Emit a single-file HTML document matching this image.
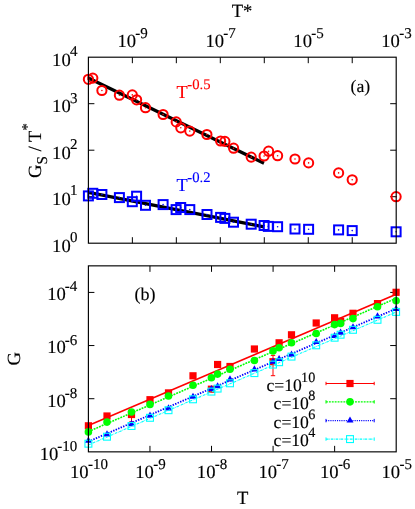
<!DOCTYPE html>
<html><head><meta charset="utf-8"><title>chart</title>
<style>html,body{margin:0;padding:0;background:#fff;}svg{display:block;will-change:transform;}text{font-family:"Liberation Serif",serif;text-rendering:geometricPrecision;stroke-width:0.15px;}</style>
</head><body>
<svg width="415" height="509" viewBox="0 0 415 509">
<rect x="0" y="0" width="415" height="509" fill="#ffffff"/>
<line x1="132.37" y1="57.20" x2="132.37" y2="63.20" stroke="#000" stroke-width="1" />
<line x1="132.37" y1="243.20" x2="132.37" y2="237.20" stroke="#000" stroke-width="1" />
<line x1="176.34" y1="57.20" x2="176.34" y2="63.20" stroke="#000" stroke-width="1" />
<line x1="176.34" y1="243.20" x2="176.34" y2="237.20" stroke="#000" stroke-width="1" />
<line x1="220.31" y1="57.20" x2="220.31" y2="63.20" stroke="#000" stroke-width="1" />
<line x1="220.31" y1="243.20" x2="220.31" y2="237.20" stroke="#000" stroke-width="1" />
<line x1="264.29" y1="57.20" x2="264.29" y2="63.20" stroke="#000" stroke-width="1" />
<line x1="264.29" y1="243.20" x2="264.29" y2="237.20" stroke="#000" stroke-width="1" />
<line x1="308.26" y1="57.20" x2="308.26" y2="63.20" stroke="#000" stroke-width="1" />
<line x1="308.26" y1="243.20" x2="308.26" y2="237.20" stroke="#000" stroke-width="1" />
<line x1="352.23" y1="57.20" x2="352.23" y2="63.20" stroke="#000" stroke-width="1" />
<line x1="352.23" y1="243.20" x2="352.23" y2="237.20" stroke="#000" stroke-width="1" />
<line x1="88.40" y1="103.70" x2="94.40" y2="103.70" stroke="#000" stroke-width="1" />
<line x1="396.20" y1="103.70" x2="390.20" y2="103.70" stroke="#000" stroke-width="1" />
<line x1="88.40" y1="150.20" x2="94.40" y2="150.20" stroke="#000" stroke-width="1" />
<line x1="396.20" y1="150.20" x2="390.20" y2="150.20" stroke="#000" stroke-width="1" />
<line x1="88.40" y1="196.70" x2="94.40" y2="196.70" stroke="#000" stroke-width="1" />
<line x1="396.20" y1="196.70" x2="390.20" y2="196.70" stroke="#000" stroke-width="1" />
<line x1="88.40" y1="78.00" x2="264.00" y2="163.20" stroke="#000" stroke-width="3.2" />
<line x1="88.40" y1="192.40" x2="264.00" y2="226.90" stroke="#000" stroke-width="3.2" />
<circle cx="88.4" cy="79.3" r="4.6" fill="none" stroke="#ff0000" stroke-width="2"/>
<circle cx="88.4" cy="79.3" r="0.8" fill="#ff0000"/>
<circle cx="92.8" cy="78.1" r="4.6" fill="none" stroke="#ff0000" stroke-width="2"/>
<circle cx="92.8" cy="78.1" r="0.8" fill="#ff0000"/>
<circle cx="101.9" cy="90.5" r="4.6" fill="none" stroke="#ff0000" stroke-width="2"/>
<circle cx="101.9" cy="90.5" r="0.8" fill="#ff0000"/>
<circle cx="119.4" cy="95.2" r="4.6" fill="none" stroke="#ff0000" stroke-width="2"/>
<circle cx="119.4" cy="95.2" r="0.8" fill="#ff0000"/>
<circle cx="132.3" cy="94.9" r="4.6" fill="none" stroke="#ff0000" stroke-width="2"/>
<circle cx="132.3" cy="94.9" r="0.8" fill="#ff0000"/>
<circle cx="136.6" cy="99.8" r="4.6" fill="none" stroke="#ff0000" stroke-width="2"/>
<circle cx="136.6" cy="99.8" r="0.8" fill="#ff0000"/>
<circle cx="145.5" cy="107.7" r="4.6" fill="none" stroke="#ff0000" stroke-width="2"/>
<circle cx="145.5" cy="107.7" r="0.8" fill="#ff0000"/>
<circle cx="163.1" cy="114.5" r="4.6" fill="none" stroke="#ff0000" stroke-width="2"/>
<circle cx="163.1" cy="114.5" r="0.8" fill="#ff0000"/>
<circle cx="176.2" cy="121.9" r="4.6" fill="none" stroke="#ff0000" stroke-width="2"/>
<circle cx="176.2" cy="121.9" r="0.8" fill="#ff0000"/>
<circle cx="180.8" cy="127.8" r="4.6" fill="none" stroke="#ff0000" stroke-width="2"/>
<circle cx="180.8" cy="127.8" r="0.8" fill="#ff0000"/>
<circle cx="189.8" cy="131.1" r="4.6" fill="none" stroke="#ff0000" stroke-width="2"/>
<circle cx="189.8" cy="131.1" r="0.8" fill="#ff0000"/>
<circle cx="206.9" cy="134.5" r="4.6" fill="none" stroke="#ff0000" stroke-width="2"/>
<circle cx="206.9" cy="134.5" r="0.8" fill="#ff0000"/>
<circle cx="220.6" cy="141.0" r="4.6" fill="none" stroke="#ff0000" stroke-width="2"/>
<circle cx="220.6" cy="141.0" r="0.8" fill="#ff0000"/>
<circle cx="224.9" cy="141.4" r="4.6" fill="none" stroke="#ff0000" stroke-width="2"/>
<circle cx="224.9" cy="141.4" r="0.8" fill="#ff0000"/>
<circle cx="233.6" cy="148.2" r="4.6" fill="none" stroke="#ff0000" stroke-width="2"/>
<circle cx="233.6" cy="148.2" r="0.8" fill="#ff0000"/>
<circle cx="251.2" cy="157.1" r="4.6" fill="none" stroke="#ff0000" stroke-width="2"/>
<circle cx="251.2" cy="157.1" r="0.8" fill="#ff0000"/>
<circle cx="264.1" cy="156.0" r="4.6" fill="none" stroke="#ff0000" stroke-width="2"/>
<circle cx="264.1" cy="156.0" r="0.8" fill="#ff0000"/>
<circle cx="268.6" cy="151.2" r="4.6" fill="none" stroke="#ff0000" stroke-width="2"/>
<circle cx="268.6" cy="151.2" r="0.8" fill="#ff0000"/>
<circle cx="277.6" cy="155.7" r="4.6" fill="none" stroke="#ff0000" stroke-width="2"/>
<circle cx="277.6" cy="155.7" r="0.8" fill="#ff0000"/>
<circle cx="295.0" cy="159.0" r="4.6" fill="none" stroke="#ff0000" stroke-width="2"/>
<circle cx="295.0" cy="159.0" r="0.8" fill="#ff0000"/>
<circle cx="308.6" cy="162.9" r="4.6" fill="none" stroke="#ff0000" stroke-width="2"/>
<circle cx="308.6" cy="162.9" r="0.8" fill="#ff0000"/>
<circle cx="338.6" cy="172.9" r="4.6" fill="none" stroke="#ff0000" stroke-width="2"/>
<circle cx="338.6" cy="172.9" r="0.8" fill="#ff0000"/>
<circle cx="352.2" cy="179.8" r="4.6" fill="none" stroke="#ff0000" stroke-width="2"/>
<circle cx="352.2" cy="179.8" r="0.8" fill="#ff0000"/>
<circle cx="396.1" cy="196.7" r="4.6" fill="none" stroke="#ff0000" stroke-width="2"/>
<circle cx="396.1" cy="196.7" r="0.8" fill="#ff0000"/>
<rect x="83.90" y="191.40" width="9" height="9" fill="none" stroke="#0000ff" stroke-width="2"/>
<circle cx="88.4" cy="195.9" r="0.8" fill="#0000ff"/>
<rect x="88.30" y="188.80" width="9" height="9" fill="none" stroke="#0000ff" stroke-width="2"/>
<circle cx="92.8" cy="193.3" r="0.8" fill="#0000ff"/>
<rect x="97.40" y="190.00" width="9" height="9" fill="none" stroke="#0000ff" stroke-width="2"/>
<circle cx="101.9" cy="194.5" r="0.8" fill="#0000ff"/>
<rect x="114.90" y="193.10" width="9" height="9" fill="none" stroke="#0000ff" stroke-width="2"/>
<circle cx="119.4" cy="197.6" r="0.8" fill="#0000ff"/>
<rect x="132.10" y="191.70" width="9" height="9" fill="none" stroke="#0000ff" stroke-width="2"/>
<circle cx="136.6" cy="196.20000000000002" r="0.8" fill="#0000ff"/>
<rect x="127.80" y="197.20" width="9" height="9" fill="none" stroke="#0000ff" stroke-width="2"/>
<circle cx="132.3" cy="201.70000000000002" r="0.8" fill="#0000ff"/>
<rect x="141.00" y="200.80" width="9" height="9" fill="none" stroke="#0000ff" stroke-width="2"/>
<circle cx="145.5" cy="205.3" r="0.8" fill="#0000ff"/>
<rect x="158.60" y="200.10" width="9" height="9" fill="none" stroke="#0000ff" stroke-width="2"/>
<circle cx="163.1" cy="204.6" r="0.8" fill="#0000ff"/>
<rect x="171.60" y="205.10" width="9" height="9" fill="none" stroke="#0000ff" stroke-width="2"/>
<circle cx="176.1" cy="209.6" r="0.8" fill="#0000ff"/>
<rect x="176.20" y="203.00" width="9" height="9" fill="none" stroke="#0000ff" stroke-width="2"/>
<circle cx="180.7" cy="207.5" r="0.8" fill="#0000ff"/>
<rect x="185.30" y="205.10" width="9" height="9" fill="none" stroke="#0000ff" stroke-width="2"/>
<circle cx="189.8" cy="209.6" r="0.8" fill="#0000ff"/>
<rect x="202.50" y="210.00" width="9" height="9" fill="none" stroke="#0000ff" stroke-width="2"/>
<circle cx="207.0" cy="214.5" r="0.8" fill="#0000ff"/>
<rect x="216.10" y="212.90" width="9" height="9" fill="none" stroke="#0000ff" stroke-width="2"/>
<circle cx="220.6" cy="217.4" r="0.8" fill="#0000ff"/>
<rect x="220.40" y="213.90" width="9" height="9" fill="none" stroke="#0000ff" stroke-width="2"/>
<circle cx="224.9" cy="218.4" r="0.8" fill="#0000ff"/>
<rect x="229.00" y="217.70" width="9" height="9" fill="none" stroke="#0000ff" stroke-width="2"/>
<circle cx="233.5" cy="222.20000000000002" r="0.8" fill="#0000ff"/>
<rect x="246.70" y="219.70" width="9" height="9" fill="none" stroke="#0000ff" stroke-width="2"/>
<circle cx="251.2" cy="224.20000000000002" r="0.8" fill="#0000ff"/>
<rect x="259.60" y="221.00" width="9" height="9" fill="none" stroke="#0000ff" stroke-width="2"/>
<circle cx="264.1" cy="225.5" r="0.8" fill="#0000ff"/>
<rect x="263.80" y="221.90" width="9" height="9" fill="none" stroke="#0000ff" stroke-width="2"/>
<circle cx="268.3" cy="226.4" r="0.8" fill="#0000ff"/>
<rect x="273.10" y="222.20" width="9" height="9" fill="none" stroke="#0000ff" stroke-width="2"/>
<circle cx="277.6" cy="226.70000000000002" r="0.8" fill="#0000ff"/>
<rect x="290.50" y="224.50" width="9" height="9" fill="none" stroke="#0000ff" stroke-width="2"/>
<circle cx="295.0" cy="229.0" r="0.8" fill="#0000ff"/>
<rect x="304.10" y="224.80" width="9" height="9" fill="none" stroke="#0000ff" stroke-width="2"/>
<circle cx="308.6" cy="229.3" r="0.8" fill="#0000ff"/>
<rect x="334.10" y="225.40" width="9" height="9" fill="none" stroke="#0000ff" stroke-width="2"/>
<circle cx="338.6" cy="229.9" r="0.8" fill="#0000ff"/>
<rect x="347.70" y="226.10" width="9" height="9" fill="none" stroke="#0000ff" stroke-width="2"/>
<circle cx="352.2" cy="230.6" r="0.8" fill="#0000ff"/>
<rect x="391.60" y="227.30" width="9" height="9" fill="none" stroke="#0000ff" stroke-width="2"/>
<circle cx="396.1" cy="231.8" r="0.8" fill="#0000ff"/>
<rect x="88.4" y="57.2" width="307.80" height="186.00" fill="none" stroke="#000" stroke-width="1.15"/>
<text x="77.50" y="66.10" font-size="18.6" text-anchor="end" fill="#000" stroke="#000">10<tspan font-size="15.0" dx="-0.7" dy="-9.8">4</tspan></text>
<text x="77.50" y="112.45" font-size="18.6" text-anchor="end" fill="#000" stroke="#000">10<tspan font-size="15.0" dx="-0.7" dy="-9.8">3</tspan></text>
<text x="77.50" y="158.80" font-size="18.6" text-anchor="end" fill="#000" stroke="#000">10<tspan font-size="15.0" dx="-0.7" dy="-9.8">2</tspan></text>
<text x="77.50" y="205.15" font-size="18.6" text-anchor="end" fill="#000" stroke="#000">10<tspan font-size="15.0" dx="-0.7" dy="-9.8">1</tspan></text>
<text x="77.50" y="251.50" font-size="18.6" text-anchor="end" fill="#000" stroke="#000">10<tspan font-size="15.0" dx="-0.7" dy="-9.8">0</tspan></text>
<text x="117.47" y="47.00" font-size="18.6" text-anchor="start" fill="#000" stroke="#000">10<tspan font-size="15.0" dx="-0.7" dy="-9.2">-9</tspan></text>
<text x="205.41" y="47.00" font-size="18.6" text-anchor="start" fill="#000" stroke="#000">10<tspan font-size="15.0" dx="-0.7" dy="-9.2">-7</tspan></text>
<text x="293.36" y="47.00" font-size="18.6" text-anchor="start" fill="#000" stroke="#000">10<tspan font-size="15.0" dx="-0.7" dy="-9.2">-5</tspan></text>
<text x="381.30" y="47.00" font-size="18.6" text-anchor="start" fill="#000" stroke="#000">10<tspan font-size="15.0" dx="-0.7" dy="-9.2">-3</tspan></text>
<text x="231.70" y="17.30" font-size="18.6" text-anchor="start" fill="#000" stroke="#000">T*</text>
<text x="350.60" y="91.70" font-size="17.7" text-anchor="start" fill="#000" stroke="#000">(a)</text>
<text x="176.50" y="97.60" font-size="18.3" text-anchor="start" fill="#ff0000" stroke="#ff0000">T<tspan font-size="14.7" dx="-0.3" dy="-8.5">-0.5</tspan></text>
<text x="176.50" y="190.50" font-size="18.3" text-anchor="start" fill="#0000ff" stroke="#0000ff">T<tspan font-size="14.7" dx="-0.3" dy="-8.5">-0.2</tspan></text>
<text transform="translate(41.3,178.0) rotate(-90)" font-size="18.6" fill="#000" stroke="#000">G<tspan font-size="15.0" dy="5.4">S</tspan><tspan dy="-5.4"> / T</tspan><tspan font-size="15.0" dy="-9">*</tspan></text>
<line x1="149.96" y1="265.85" x2="149.96" y2="271.85" stroke="#000" stroke-width="1" />
<line x1="149.96" y1="451.85" x2="149.96" y2="445.85" stroke="#000" stroke-width="1" />
<line x1="211.52" y1="265.85" x2="211.52" y2="271.85" stroke="#000" stroke-width="1" />
<line x1="211.52" y1="451.85" x2="211.52" y2="445.85" stroke="#000" stroke-width="1" />
<line x1="273.08" y1="265.85" x2="273.08" y2="271.85" stroke="#000" stroke-width="1" />
<line x1="273.08" y1="451.85" x2="273.08" y2="445.85" stroke="#000" stroke-width="1" />
<line x1="334.64" y1="265.85" x2="334.64" y2="271.85" stroke="#000" stroke-width="1" />
<line x1="334.64" y1="451.85" x2="334.64" y2="445.85" stroke="#000" stroke-width="1" />
<line x1="88.40" y1="292.42" x2="94.40" y2="292.42" stroke="#000" stroke-width="1" />
<line x1="396.20" y1="292.42" x2="390.20" y2="292.42" stroke="#000" stroke-width="1" />
<line x1="88.40" y1="345.56" x2="94.40" y2="345.56" stroke="#000" stroke-width="1" />
<line x1="396.20" y1="345.56" x2="390.20" y2="345.56" stroke="#000" stroke-width="1" />
<line x1="88.40" y1="398.71" x2="94.40" y2="398.71" stroke="#000" stroke-width="1" />
<line x1="396.20" y1="398.71" x2="390.20" y2="398.71" stroke="#000" stroke-width="1" />
<line x1="273.00" y1="355.40" x2="273.00" y2="375.70" stroke="#ff0000" stroke-width="1" />
<line x1="270.80" y1="355.40" x2="275.20" y2="355.40" stroke="#ff0000" stroke-width="1" />
<line x1="270.80" y1="375.70" x2="275.20" y2="375.70" stroke="#ff0000" stroke-width="1" />
<line x1="131.50" y1="410.50" x2="131.50" y2="421.70" stroke="#ff0000" stroke-width="1" />
<line x1="129.30" y1="410.50" x2="133.70" y2="410.50" stroke="#ff0000" stroke-width="1" />
<line x1="129.30" y1="421.70" x2="133.70" y2="421.70" stroke="#ff0000" stroke-width="1" />
<rect x="84.80" y="422.20" width="7.2" height="7.2" fill="#ff0000"/>
<rect x="103.40" y="412.40" width="7.2" height="7.2" fill="#ff0000"/>
<rect x="127.90" y="410.90" width="7.2" height="7.2" fill="#ff0000"/>
<rect x="146.40" y="396.10" width="7.2" height="7.2" fill="#ff0000"/>
<rect x="164.90" y="389.30" width="7.2" height="7.2" fill="#ff0000"/>
<rect x="189.40" y="372.20" width="7.2" height="7.2" fill="#ff0000"/>
<rect x="207.80" y="385.60" width="7.2" height="7.2" fill="#ff0000"/>
<rect x="214.00" y="360.90" width="7.2" height="7.2" fill="#ff0000"/>
<rect x="226.40" y="362.90" width="7.2" height="7.2" fill="#ff0000"/>
<rect x="250.80" y="345.40" width="7.2" height="7.2" fill="#ff0000"/>
<rect x="269.40" y="358.10" width="7.2" height="7.2" fill="#ff0000"/>
<rect x="275.50" y="339.20" width="7.2" height="7.2" fill="#ff0000"/>
<rect x="287.90" y="331.20" width="7.2" height="7.2" fill="#ff0000"/>
<rect x="312.60" y="319.40" width="7.2" height="7.2" fill="#ff0000"/>
<rect x="331.00" y="314.20" width="7.2" height="7.2" fill="#ff0000"/>
<rect x="337.00" y="317.60" width="7.2" height="7.2" fill="#ff0000"/>
<rect x="349.40" y="309.70" width="7.2" height="7.2" fill="#ff0000"/>
<rect x="373.90" y="300.00" width="7.2" height="7.2" fill="#ff0000"/>
<rect x="392.50" y="288.70" width="7.2" height="7.2" fill="#ff0000"/>
<line x1="88.40" y1="425.50" x2="396.20" y2="294.20" stroke="#ff0000" stroke-width="1.6" />
<circle cx="88.4" cy="431.9" r="3.8" fill="#00ff00"/>
<circle cx="107.0" cy="422.1" r="3.8" fill="#00ff00"/>
<circle cx="131.5" cy="412.0" r="3.8" fill="#00ff00"/>
<circle cx="150.0" cy="404.4" r="3.8" fill="#00ff00"/>
<circle cx="168.5" cy="396.0" r="3.8" fill="#00ff00"/>
<circle cx="193.0" cy="385.2" r="3.8" fill="#00ff00"/>
<circle cx="211.4" cy="377.7" r="3.8" fill="#00ff00"/>
<circle cx="217.6" cy="374.1" r="3.8" fill="#00ff00"/>
<circle cx="230.0" cy="369.3" r="3.8" fill="#00ff00"/>
<circle cx="254.4" cy="360.5" r="3.8" fill="#00ff00"/>
<circle cx="273.0" cy="350.9" r="3.8" fill="#00ff00"/>
<circle cx="279.1" cy="347.8" r="3.8" fill="#00ff00"/>
<circle cx="291.5" cy="342.8" r="3.8" fill="#00ff00"/>
<circle cx="316.2" cy="333.5" r="3.8" fill="#00ff00"/>
<circle cx="334.6" cy="324.6" r="3.8" fill="#00ff00"/>
<circle cx="340.6" cy="323.4" r="3.8" fill="#00ff00"/>
<circle cx="353.0" cy="318.6" r="3.8" fill="#00ff00"/>
<circle cx="377.5" cy="306.8" r="3.8" fill="#00ff00"/>
<circle cx="396.1" cy="300.7" r="3.8" fill="#00ff00"/>
<line x1="88.40" y1="431.60" x2="396.20" y2="298.30" stroke="#00ff00" stroke-width="1.6" stroke-dasharray="1.9,1.0"/>
<path d="M88.40,436.70 L91.90,442.80 L84.90,442.80 Z" fill="#0000ff"/>
<path d="M107.00,430.30 L110.50,436.40 L103.50,436.40 Z" fill="#0000ff"/>
<path d="M131.50,420.10 L135.00,426.20 L128.00,426.20 Z" fill="#0000ff"/>
<path d="M150.00,411.60 L153.50,417.70 L146.50,417.70 Z" fill="#0000ff"/>
<path d="M168.50,404.30 L172.00,410.40 L165.00,410.40 Z" fill="#0000ff"/>
<path d="M193.00,392.70 L196.50,398.80 L189.50,398.80 Z" fill="#0000ff"/>
<path d="M211.40,385.00 L214.90,391.10 L207.90,391.10 Z" fill="#0000ff"/>
<path d="M217.60,382.20 L221.10,388.30 L214.10,388.30 Z" fill="#0000ff"/>
<path d="M230.00,375.30 L233.50,381.40 L226.50,381.40 Z" fill="#0000ff"/>
<path d="M254.40,365.30 L257.90,371.40 L250.90,371.40 Z" fill="#0000ff"/>
<path d="M273.00,357.70 L276.50,363.80 L269.50,363.80 Z" fill="#0000ff"/>
<path d="M279.10,354.90 L282.60,361.00 L275.60,361.00 Z" fill="#0000ff"/>
<path d="M291.50,350.60 L295.00,356.70 L288.00,356.70 Z" fill="#0000ff"/>
<path d="M316.20,338.00 L319.70,344.10 L312.70,344.10 Z" fill="#0000ff"/>
<path d="M334.60,331.90 L338.10,338.00 L331.10,338.00 Z" fill="#0000ff"/>
<path d="M340.60,328.60 L344.10,334.70 L337.10,334.70 Z" fill="#0000ff"/>
<path d="M353.00,323.20 L356.50,329.30 L349.50,329.30 Z" fill="#0000ff"/>
<path d="M377.50,312.30 L381.00,318.40 L374.00,318.40 Z" fill="#0000ff"/>
<path d="M396.10,304.90 L399.60,311.00 L392.60,311.00 Z" fill="#0000ff"/>
<line x1="88.40" y1="441.60" x2="396.20" y2="308.60" stroke="#0000ff" stroke-width="1.8" stroke-dasharray="1.4,1.3"/>
<rect x="84.95" y="440.25" width="6.9" height="6.9" fill="none" stroke="#00ffff" stroke-width="1.1"/>
<rect x="103.55" y="433.25" width="6.9" height="6.9" fill="none" stroke="#00ffff" stroke-width="1.1"/>
<rect x="128.05" y="422.55" width="6.9" height="6.9" fill="none" stroke="#00ffff" stroke-width="1.1"/>
<rect x="146.55" y="414.35" width="6.9" height="6.9" fill="none" stroke="#00ffff" stroke-width="1.1"/>
<rect x="165.05" y="406.75" width="6.9" height="6.9" fill="none" stroke="#00ffff" stroke-width="1.1"/>
<rect x="189.55" y="395.85" width="6.9" height="6.9" fill="none" stroke="#00ffff" stroke-width="1.1"/>
<rect x="207.95" y="388.15" width="6.9" height="6.9" fill="none" stroke="#00ffff" stroke-width="1.1"/>
<rect x="214.15" y="385.15" width="6.9" height="6.9" fill="none" stroke="#00ffff" stroke-width="1.1"/>
<rect x="226.55" y="379.85" width="6.9" height="6.9" fill="none" stroke="#00ffff" stroke-width="1.1"/>
<rect x="250.95" y="369.65" width="6.9" height="6.9" fill="none" stroke="#00ffff" stroke-width="1.1"/>
<rect x="269.55" y="361.15" width="6.9" height="6.9" fill="none" stroke="#00ffff" stroke-width="1.1"/>
<rect x="275.65" y="358.75" width="6.9" height="6.9" fill="none" stroke="#00ffff" stroke-width="1.1"/>
<rect x="288.05" y="353.15" width="6.9" height="6.9" fill="none" stroke="#00ffff" stroke-width="1.1"/>
<rect x="312.75" y="341.85" width="6.9" height="6.9" fill="none" stroke="#00ffff" stroke-width="1.1"/>
<rect x="331.15" y="334.25" width="6.9" height="6.9" fill="none" stroke="#00ffff" stroke-width="1.1"/>
<rect x="337.15" y="331.25" width="6.9" height="6.9" fill="none" stroke="#00ffff" stroke-width="1.1"/>
<rect x="349.55" y="326.35" width="6.9" height="6.9" fill="none" stroke="#00ffff" stroke-width="1.1"/>
<rect x="374.05" y="316.35" width="6.9" height="6.9" fill="none" stroke="#00ffff" stroke-width="1.1"/>
<rect x="392.65" y="308.45" width="6.9" height="6.9" fill="none" stroke="#00ffff" stroke-width="1.1"/>
<line x1="88.40" y1="445.00" x2="396.20" y2="312.00" stroke="#00ffff" stroke-width="1.1" stroke-dasharray="2.6,0.8,0.6,0.8"/>
<text x="315.30" y="390.60" font-size="17.6" text-anchor="end" fill="#000" stroke="#000">c=10<tspan font-size="14.2" dx="-0.7" dy="-8.9">10</tspan></text>
<text x="315.30" y="408.95" font-size="17.6" text-anchor="end" fill="#000" stroke="#000">c=10<tspan font-size="14.2" dx="-0.7" dy="-8.9">8</tspan></text>
<text x="315.30" y="427.70" font-size="17.6" text-anchor="end" fill="#000" stroke="#000">c=10<tspan font-size="14.2" dx="-0.7" dy="-8.9">6</tspan></text>
<text x="315.30" y="446.20" font-size="17.6" text-anchor="end" fill="#000" stroke="#000">c=10<tspan font-size="14.2" dx="-0.7" dy="-8.9">4</tspan></text>
<line x1="326.00" y1="383.50" x2="374.20" y2="383.50" stroke="#ff0000" stroke-width="1.1" />
<line x1="326.00" y1="381.80" x2="326.00" y2="385.20" stroke="#ff0000" stroke-width="1" />
<line x1="374.20" y1="381.80" x2="374.20" y2="385.20" stroke="#ff0000" stroke-width="1" />
<rect x="346.40" y="379.90" width="7.2" height="7.2" fill="#ff0000"/>
<line x1="326.00" y1="401.85" x2="374.20" y2="401.85" stroke="#00ff00" stroke-width="1.2" stroke-dasharray="1.9,1.0"/>
<line x1="326.00" y1="400.15" x2="326.00" y2="403.55" stroke="#00ff00" stroke-width="1" />
<line x1="374.20" y1="400.15" x2="374.20" y2="403.55" stroke="#00ff00" stroke-width="1" />
<circle cx="350.0" cy="401.85" r="3.8" fill="#00ff00"/>
<line x1="326.00" y1="420.60" x2="374.20" y2="420.60" stroke="#0000ff" stroke-width="1.1" stroke-dasharray="1.1,1.1"/>
<line x1="326.00" y1="418.90" x2="326.00" y2="422.30" stroke="#0000ff" stroke-width="1" />
<line x1="374.20" y1="418.90" x2="374.20" y2="422.30" stroke="#0000ff" stroke-width="1" />
<path d="M350.00,416.50 L353.50,422.60 L346.50,422.60 Z" fill="#0000ff"/>
<line x1="326.00" y1="439.10" x2="374.20" y2="439.10" stroke="#00ffff" stroke-width="1.1" stroke-dasharray="2.6,0.8,0.6,0.8"/>
<line x1="326.00" y1="437.40" x2="326.00" y2="440.80" stroke="#00ffff" stroke-width="1" />
<line x1="374.20" y1="437.40" x2="374.20" y2="440.80" stroke="#00ffff" stroke-width="1" />
<rect x="346.55" y="435.65" width="6.9" height="6.9" fill="none" stroke="#00ffff" stroke-width="1.1"/>
<rect x="88.4" y="265.85" width="307.80" height="186.00" fill="none" stroke="#000" stroke-width="1.15"/>
<text x="77.20" y="300.32" font-size="18.6" text-anchor="end" fill="#000" stroke="#000">10<tspan font-size="15.0" dx="-1.1" dy="-8.9">-4</tspan></text>
<text x="77.20" y="353.46" font-size="18.6" text-anchor="end" fill="#000" stroke="#000">10<tspan font-size="15.0" dx="-1.1" dy="-8.9">-6</tspan></text>
<text x="77.20" y="406.61" font-size="18.6" text-anchor="end" fill="#000" stroke="#000">10<tspan font-size="15.0" dx="-1.1" dy="-8.9">-8</tspan></text>
<text x="77.20" y="459.75" font-size="18.6" text-anchor="end" fill="#000" stroke="#000">10<tspan font-size="15.0" dx="-1.1" dy="-8.9">-10</tspan></text>
<text x="70.00" y="478.20" font-size="18.6" text-anchor="start" fill="#000" stroke="#000">10<tspan font-size="15.0" dx="-0.7" dy="-9.2">-10</tspan></text>
<text x="135.31" y="478.20" font-size="18.6" text-anchor="start" fill="#000" stroke="#000">10<tspan font-size="15.0" dx="-0.7" dy="-9.2">-9</tspan></text>
<text x="196.87" y="478.20" font-size="18.6" text-anchor="start" fill="#000" stroke="#000">10<tspan font-size="15.0" dx="-0.7" dy="-9.2">-8</tspan></text>
<text x="258.43" y="478.20" font-size="18.6" text-anchor="start" fill="#000" stroke="#000">10<tspan font-size="15.0" dx="-0.7" dy="-9.2">-7</tspan></text>
<text x="319.99" y="478.20" font-size="18.6" text-anchor="start" fill="#000" stroke="#000">10<tspan font-size="15.0" dx="-0.7" dy="-9.2">-6</tspan></text>
<text x="381.55" y="478.20" font-size="18.6" text-anchor="start" fill="#000" stroke="#000">10<tspan font-size="15.0" dx="-0.7" dy="-9.2">-5</tspan></text>
<text x="237.10" y="503.60" font-size="18.6" text-anchor="start" fill="#000" stroke="#000">T</text>
<text x="134.40" y="299.70" font-size="18.0" text-anchor="start" fill="#000" stroke="#000">(b)</text>
<text transform="translate(19.6,365.5) rotate(-90)" font-size="18.6" fill="#000" stroke="#000">G</text>
</svg></body></html>
